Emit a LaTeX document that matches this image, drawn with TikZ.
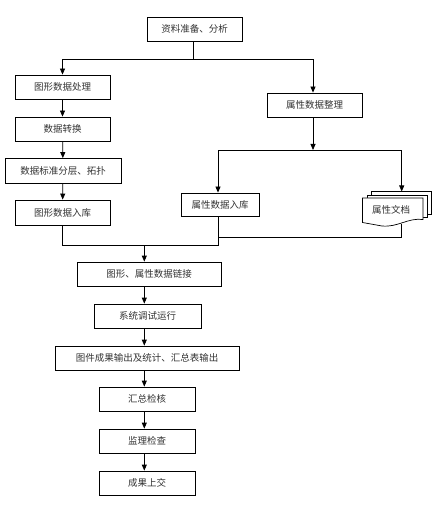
\documentclass[tikz,border=0pt]{standalone}
\usepackage{fontspec}
\newfontfamily\cjk{Noto Sans CJK SC}
\usetikzlibrary{arrows.meta}
\tikzset{
  box/.style={draw, line width=0.8pt, fill=white, inner sep=0pt, font=\cjk\fontsize{9.5}{11}\selectfont, text=black!80},
  conn/.style={line width=0.8pt},
  arr/.style={line width=0.8pt, -{Triangle[width=5pt,length=6pt]}},
  docshape/.style={draw, line width=0.7pt, fill=white}
}
\begin{document}
\begin{tikzpicture}[x=1pt,y=-1pt]
\useasboundingbox (0,0) rectangle (437,510);
% nodes
\node[box, minimum width=95pt, minimum height=24pt] (n1) at (194.5,29) {资料准备、分析};
\node[box, minimum width=95pt, minimum height=24pt] (n2) at (62.5,87) {图形数据处理};
\node[box, minimum width=95pt, minimum height=24pt] (n3) at (62.5,129) {数据转换};
\node[box, minimum width=116pt, minimum height=25pt] (n4) at (63,171) {数据标准分层、拓扑};
\node[box, minimum width=95pt, minimum height=25pt] (n5) at (62.5,212.5) {图形数据入库};
\node[box, minimum width=95pt, minimum height=24pt] (r1) at (314.5,105) {属性数据整理};
\node[box, minimum width=78pt, minimum height=23pt] (r2) at (220,204.5) {属性数据入库};
\node[box, minimum width=144pt, minimum height=24pt] (m1) at (149,274) {图形、属性数据链接};
\node[box, minimum width=107pt, minimum height=24pt] (m2) at (147.5,316) {系统调试运行};
\node[box, minimum width=184pt, minimum height=24pt] (m3) at (147,358) {图件成果输出及统计、汇总表输出};
\node[box, minimum width=96pt, minimum height=24pt] (m4) at (147,399) {汇总检核};
\node[box, minimum width=96pt, minimum height=24pt] (m5) at (147,441) {监理检查};
\node[box, minimum width=96pt, minimum height=24pt] (m6) at (147,483) {成果上交};
% multi-document shape
\draw[docshape] (371.5,191.5) rectangle (431,214.5);
\draw[docshape] (367,195) rectangle (427,217.5);
\draw[docshape] (362.5,198) -- (423,198) -- (423,219.5)
  .. controls (408,217.5) and (398,227.5) .. (382,226)
  .. controls (372,225) .. (362.5,222.5) -- cycle;
\node[font=\cjk\fontsize{9.5}{11}\selectfont, text=black!80, inner sep=0pt] (doc) at (391,210) {属性文档};
\coordinate (doctop) at (401.7,191.5);
\coordinate (docbot) at (401.7,224.5);
% junctions
\coordinate (j1) at (193.3,59);
\coordinate (j2) at (313,150);
\coordinate (j3) at (144.3,245);
\coordinate (j4) at (218,237);
% connectors top
\draw[conn] (n1.south -| j1) -- (j1);
\draw[arr] (j1) -| (n2.north);
\draw[arr] (j1) -| (r1.north -| j2);
\draw[arr] (n2) -- (n3);
\draw[arr] (n3) -- (n4);
\draw[arr] (n4) -- (n5);
% right branch
\draw[arr] (r1.south -| j2) -- (j2);
\draw[arr] (j2) -| ([xshift=-2pt]r2.north);
\draw[arr] (j2) -| (doctop);
% merge
\draw[conn] (n5.south) |- (j3);
\draw[conn] (j3) -| ([xshift=-2pt]r2.south);
\draw[conn] (docbot) |- (j4);
\draw[arr] (j3) -- (j3 |- m1.north);
% main chain
\draw[arr] (m1.south -| j3) -- (m2.north -| j3);
\draw[arr] (m2.south -| j3) -- (m3.north -| j3);
\draw[arr] (m3.south -| j3) -- (m4.north -| j3);
\draw[arr] (m4.south -| j3) -- (m5.north -| j3);
\draw[arr] (m5.south -| j3) -- (m6.north -| j3);
\end{tikzpicture}
\end{document}
